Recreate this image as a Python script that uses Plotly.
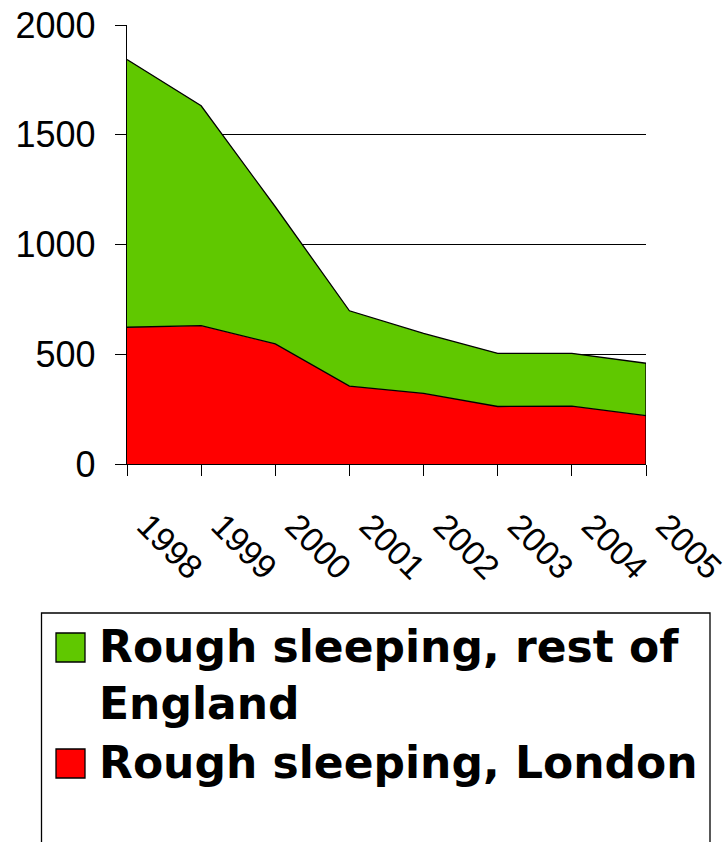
import plotly.graph_objects as go

# Rough sleeping counts, England, 1998-2005
years = [1998, 1999, 2000, 2001, 2002, 2003, 2004, 2005]
year_labels = ["1998", "1999", "2000", "2001", "2002", "2003", "2004", "2005"]
london = [623, 630, 547, 355, 322, 262, 264, 220]
rest_of_england = [1220, 1002, 625, 343, 273, 242, 240, 239]
series_names = ["Rough sleeping, rest of<br>England", "Rough sleeping, London"]
y_ticks = [0, 500, 1000, 1500, 2000]

GREEN = "#60C800"
RED = "#FF0000"

# plot-area geometry in pixels (used for the hand-built legend)
W, H = 728, 842
L, R, T, B = 127, 646, 25, 464


def px(x):
    return (x - L) / (R - L)


def py(y):
    return (B - y) / (B - T)


fig = go.Figure()

fig.add_trace(go.Scatter(
    x=years, y=london, stackgroup="s", mode="lines",
    line=dict(color="black", width=1.3), fillcolor=RED,
    name="Rough sleeping, London", showlegend=False, hoverinfo="x+y",
))
fig.add_trace(go.Scatter(
    x=years, y=rest_of_england, stackgroup="s", mode="lines",
    line=dict(color="black", width=1.3), fillcolor=GREEN,
    name="Rough sleeping, rest of England", showlegend=False, hoverinfo="x+y",
))
# closing edge of the stacked area at the last year
total_last = london[-1] + rest_of_england[-1]
fig.add_trace(go.Scatter(
    x=[years[-1], years[-1]], y=[0, total_last], mode="lines",
    line=dict(color="black", width=1.3), showlegend=False, hoverinfo="skip",
))

# legend frame (runs past the bottom of the page)
fig.add_shape(type="rect", xref="paper", yref="paper",
              x0=px(41.5), x1=px(710), y0=py(613), y1=py(900),
              line=dict(color="black", width=1.3), fillcolor="rgba(0,0,0,0)")

# legend swatches and labels
swatches = [(GREEN, 633), (RED, 749)]
label_tops = [619, 735]
for (color, top), name, ltop in zip(swatches, series_names, label_tops):
    fig.add_shape(type="rect", xref="paper", yref="paper",
                  x0=px(56), x1=px(85), y0=py(top + 29), y1=py(top),
                  line=dict(color="black", width=1.3), fillcolor=color)
    fig.add_annotation(
        xref="paper", yref="paper", x=px(97), y=py(ltop),
        xanchor="left", yanchor="top", align="left", showarrow=False,
        text=name,
        font=dict(family="DejaVu Sans", size=44, color="black", weight="bold"),
    )

fig.update_layout(
    width=W, height=H,
    margin=dict(l=L, r=W - R, t=T, b=H - B, autoexpand=False),
    paper_bgcolor="white", plot_bgcolor="white",
    showlegend=False,
    xaxis=dict(
        range=[years[0], years[-1]], tickvals=years, ticktext=year_labels,
        tickangle=45, ticks="outside", ticklen=11, tickwidth=1.3, tickcolor="black",
        showline=True, linecolor="black", linewidth=1.3, showgrid=False, zeroline=False,
        tickfont=dict(family="Liberation Sans", size=34, color="black"),
        ticklabelstandoff=16, ticklabelshift=20, ticklabeloverflow="allow",
        automargin=False,
    ),
    yaxis=dict(
        range=[0, 2000], tickvals=y_ticks,
        ticks="outside", ticklen=11, tickwidth=1.3, tickcolor="black",
        showline=True, linecolor="black", linewidth=1.3,
        showgrid=True, gridcolor="black", gridwidth=1.3, zeroline=False,
        tickfont=dict(family="Liberation Sans", size=36, color="black"),
        ticklabelstandoff=12, automargin=False,
    ),
)

fig.write_html("out.html")
